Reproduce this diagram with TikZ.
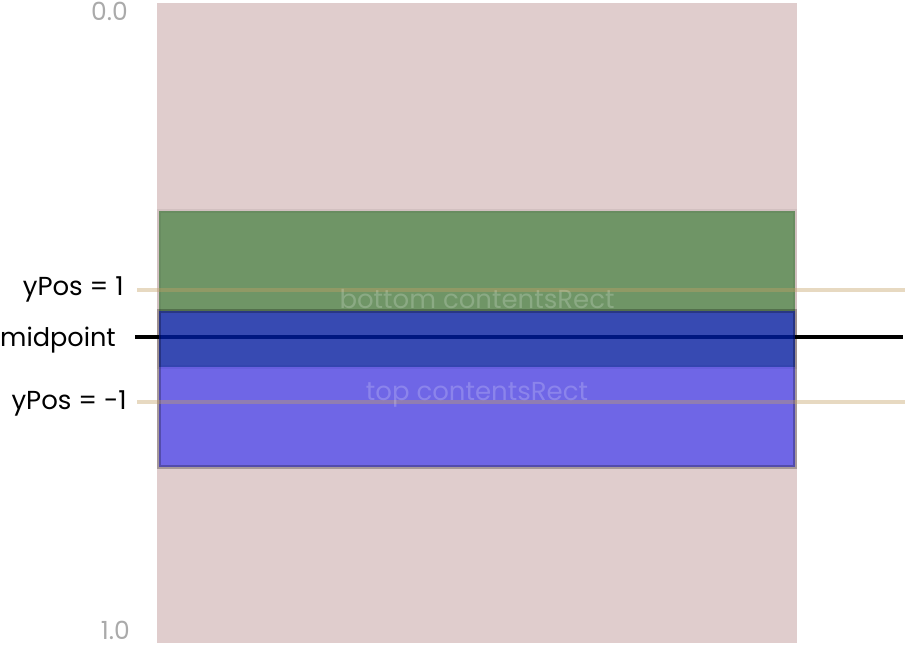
\documentclass[tikz,border=0pt]{standalone}
\usepackage{fontspec}
\setmainfont{Poppins}
\usetikzlibrary{positioning}
\definecolor{rosebg}{RGB}{224,205,205}
\definecolor{rectgreen}{RGB}{0,95,0}
\definecolor{rectblue}{RGB}{0,0,255}
\definecolor{guideline}{RGB}{195,160,100}
\definecolor{scalegray}{RGB}{170,170,170}
\tikzset{
  bgarea/.style={fill=rosebg, draw=none},
  bottomrect/.style={fill=rectgreen, fill opacity=0.5, draw=black, draw opacity=0.06, line width=4pt},
  toprect/.style={fill=rectblue, fill opacity=0.5, draw=black, draw opacity=0.25, line width=4pt},
  guide/.style={draw=guideline, draw opacity=0.4, line width=4pt},
  midline/.style={draw=black, line width=3.5pt},
  sidelabel/.style={anchor=base east, font=\fontsize{26}{30}\selectfont, inner sep=0pt},
  scalelabel/.style={anchor=base east, text=scalegray, font=\fontsize{25}{29}\selectfont, inner sep=0pt},
  rectlabel/.style={anchor=base, text=white, text opacity=0.2, font=\fontsize{26}{30}\selectfont, inner sep=0pt}
}
\begin{document}
\begin{tikzpicture}[x=1pt, y=-1pt]
  \useasboundingbox (0,0) rectangle (906,646);
  % background area
  \draw[bgarea] (157,3) rectangle (797,643);
  % midpoint sits under the rects
  \coordinate (midL) at (135,337);
  \coordinate (midR) at (903,337);
  \draw[midline] (midL) -- (midR);
  % the two contents rects
  \draw[bottomrect] (159,211) rectangle (795,367);
  \draw[toprect] (159,311) rectangle (795,467);
  % yPos guides
  \coordinate (upL) at (137,290);
  \coordinate (upR) at (905,290);
  \coordinate (dnL) at (137,402);
  \coordinate (dnR) at (905,402);
  \draw[guide] (upL) -- (upR);
  \draw[guide] (dnL) -- (dnR);
  % labels
  \node[scalelabel] (zero) at (128,20) {0.0};
  \node[scalelabel] (one) at (130,639) {1.0};
  \node[sidelabel] (ypos1) at (124,295) {yPos = 1};
  \node[sidelabel, font=\fontsize{25.6}{30}\selectfont] (mid) at (116,346) {midpoint};
  \node[sidelabel] (yposm1) at (127,409) {yPos = -1};
  \node[rectlabel] (bottomtxt) at (477,308) {bottom contentsRect};
  \node[rectlabel] (toptxt) at (477,400) {top contentsRect};
\end{tikzpicture}
\end{document}
